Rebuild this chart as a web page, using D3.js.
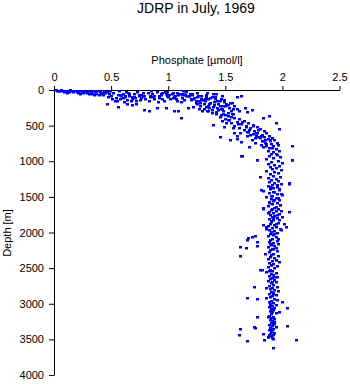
<!DOCTYPE html>
<html><head><meta charset="utf-8">
<script src="https://cdn.jsdelivr.net/npm/d3@7"></script>
<style>
body{margin:0;background:#fff;}
text{font-family:"Liberation Sans",Arial,sans-serif;fill:#000;}
</style></head>
<body><svg id="c" width="350" height="384"></svg>
<script>
const title = "JDRP in July, 1969";
const xLabel = "Phosphate [\u00b5mol/l]";
const yLabel = "Depth [m]";
const xTicks = [0, 0.5, 1, 1.5, 2, 2.5];
const yTicks = [0, 500, 1000, 1500, 2000, 2500, 3000, 3500, 4000];

// surface layer
const surfPhos = [0.02,0.04,0.06,0.08,0.10,0.12,0.14,0.16,0.18,0.20,0.22,0.24,0.26,0.28,0.30,0.32,0.34,0.36,0.38,0.40,0.42,0.44,0.05,0.09,0.13,0.17,0.21,0.25,0.29,0.33,0.37,0.41,0.45,0.11,0.03,0.23,0.31,0.35,0.39,0.43];
const surfDepth = [5,10,3,12,8,15,5,20,10,25,8,18,12,30,15,22,10,35,20,28,40,15,20,25,30,35,45,40,48,50,55,60,45,40,15,55,62,70,65,75];

// upper thermocline
const upperPhos = [0.46,0.48,0.50,0.52,0.54,0.56,0.58,0.60,0.62,0.64,0.66,0.68,0.70,0.72,0.74,0.76,0.78,0.80,0.47,0.51,0.55,0.59,0.63,0.67,0.71,0.75,0.79,0.49,0.57,0.65,0.73,0.46,0.56,0.64,0.68,0.72,0.53,0.61,
 0.82,0.84,0.86,0.88,0.90,0.92,0.94,0.96,0.98,1.00,1.02,1.04,1.06,1.08,1.10,1.12,1.14,1.16,1.18,1.20,0.83,0.87,0.91,0.95,0.99,1.03,1.07,1.11,1.15,1.19,0.79,0.83,0.98,0.90,1.09,1.11,1.05,1.17,1.22,0.85,0.97,1.13,
 1.21,1.23,1.25,1.27,1.29,1.31,1.33,1.35,1.37,1.39,1.41,1.43,1.45,1.47,1.49,1.51,1.53,1.24,1.28,1.32,1.36,1.40,1.44,1.48,1.52,1.26,1.30,1.34,1.38,1.42,1.46,1.50,1.54,1.22,1.35,1.42,1.47,1.38,1.50,1.33,
 0.92,0.95,1.01,1.05,1.09,1.13,1.17,1.21,1.25,1.29,1.33,1.37,1.41,1.45,1.49,0.94,0.99,1.04,1.08,1.12,1.16,1.20,1.24,1.28,1.32,1.36,1.40,1.44,1.48,1.52,1.27,1.31,1.35,1.39,1.43,1.46,1.30,1.34,1.38,1.25,
 0.58,0.62,0.66,0.70,0.74,0.78,0.60,0.68,0.76,0.84,0.88,1.56,1.58,1.60,1.55,1.57];
const upperDepth = [30,60,90,40,110,70,130,50,100,140,80,120,60,150,90,110,40,130,100,130,150,90,30,160,110,140,80,20,20,45,25,196,243,196,210,196,160,170,
 40,90,60,130,30,110,70,150,50,100,130,40,80,160,60,110,140,30,90,120,150,100,170,120,80,60,120,170,70,50,280,295,252,252,295,398,295,252,240,20,25,20,
 60,110,40,150,90,200,70,130,180,50,100,160,220,80,140,190,250,180,220,120,250,210,280,300,320,90,140,40,100,60,120,230,180,130,300,330,260,280,350,240,
 80,45,65,95,75,55,85,70,100,120,95,110,130,150,170,60,35,110,45,75,90,140,160,180,160,200,175,200,230,210,260,270,220,240,250,270,300,290,320,200,
 70,85,60,95,75,90,115,105,70,100,85,180,220,260,300,330];

// main thermocline bend
const bendPhos = [1.42,1.48,1.52,1.45,1.56,1.50,1.58,1.53,1.62,1.47,1.60,1.66,1.55,1.64,1.70,1.58,1.68,1.74,1.62,1.72,1.78,1.66,1.75,1.80,1.70,1.78,1.84,1.74,1.82,1.86,1.77,1.84,1.88,1.80,1.87,1.91,1.83,1.89,1.93,1.85,1.90,1.95,1.86,1.92,1.96,1.88,1.94,1.87,1.92,1.97,
 1.39,1.455,1.54,1.60,1.64,1.71,1.64,1.78,1.83,1.88,1.94,1.97,2.08,2.08,1.73,1.69,1.64,1.60,1.57,1.62,1.67,1.51,1.57,1.63,1.69,1.49,1.60,1.73,1.76,1.81,1.58,
 1.46,1.52,1.55,1.61,1.65,1.68,1.71,1.74,1.77,1.79,1.81,1.85,1.82,1.76,1.69,1.72,1.79,1.86,1.89,1.83,1.91,1.94];
const bendDepth = [310,330,360,380,340,400,390,420,410,440,450,430,470,480,460,500,510,490,530,540,520,560,570,550,590,600,580,620,630,610,650,660,640,680,690,670,710,720,700,740,760,750,780,790,770,810,830,850,870,860,
 491,655,701,690,730,795,931,982,398,365,467,552,786,982,280,304,84,94,260,300,250,460,540,600,650,520,640,700,740,770,610,
 350,420,380,480,450,520,560,500,610,560,650,700,720,680,590,630,660,760,700,800,820,900];

// deep water column
const deepPhos = [1.90,1.95,1.88,1.98,1.92,1.86,1.96,1.90,2.00,1.87,1.93,1.97,1.89,1.94,1.91,1.99,1.86,1.93,1.96,1.89,1.92,1.98,1.87,1.94,1.90,1.96,1.88,1.93,1.99,1.91,1.87,1.95,1.92,1.89,1.97,1.93,1.88,1.95,2.00,1.91,1.86,1.94,1.90,1.97,1.92,1.88,1.95,1.91,1.98,1.87,1.93,1.96,1.90,1.94,1.88,1.92,1.97,1.89,1.93,1.91,1.95,1.88,1.92,1.90,1.96,1.89,1.93,1.87,1.94,1.91,1.98,1.88,1.93,1.90,1.95,1.89,1.92,1.87,1.94,1.91,1.89,1.95,1.88,1.92,1.96,1.90,1.93,1.87,1.94,1.91,1.89,1.95,1.88,1.92,1.90,1.96,1.89,1.93,1.87,1.94,1.91,1.97,1.88,1.92,1.90,1.95,1.87,1.93,1.89,1.91,1.86,1.94,1.90,1.92,1.88,1.95,1.91,1.89,1.93,1.87,1.94,1.90,1.92,1.88,1.95,1.91,1.89,1.93,1.96,1.90,1.92,1.88,1.94,1.91,1.89,1.86,1.93,1.90,1.88,1.92,1.89,1.94,1.91,1.88,1.93,1.90,1.92,1.89,1.91,1.94,1.90,1.88,1.92,1.90,1.93,1.89,1.91,1.93,1.90,1.92,1.88,1.91,1.94,1.89,1.92,1.88,1.90,1.93,1.89,1.92,1.90,1.87,1.91,
 1.645,1.78,1.805,1.83,1.83,2.06,2.08,2.06,1.814,2.06,1.826,2.0,1.689,1.70,1.73,1.76,1.78,1.63,1.68,1.63,1.78,1.80,1.82,1.75,1.69,1.78,2.0,2.04,1.97,1.78,2.04,1.75,1.76,1.63,1.62,1.83,1.69,1.84,1.87,2.12,1.92,1.83,1.86,2.01,2.03,1.99,
 1.95,1.89,1.97,1.92,1.99,1.90,1.96,1.93,1.88,1.98,1.94,1.91,1.99,1.87,1.95,1.92,1.97,1.90,1.94,1.86,1.93,1.96,1.89,1.92,1.85,1.94,1.90,1.88,1.93,1.91,1.86,1.92,1.95,1.89,1.90,1.87,1.93,1.91,1.88,1.92];
const deepDepth = [900,915,930,945,960,975,990,1005,1020,1035,1050,1065,1080,1095,1110,1125,1140,1155,1170,1185,1200,1215,1230,1245,1260,1275,1290,1305,1320,1335,1350,1365,1380,1395,1410,1425,1440,1455,1470,1485,1500,1515,1530,1545,1560,1575,1590,1605,1620,1635,1650,1665,1680,1695,1710,1725,1740,1755,1770,1785,1800,1815,1830,1845,1860,1875,1890,1905,1920,1935,1950,1965,1980,1995,2010,2025,2040,2055,2070,2085,2100,2115,2130,2145,2160,2175,2190,2205,2220,2235,2250,2265,2280,2295,2310,2325,2340,2355,2370,2385,2400,2415,2430,2445,2460,2475,2490,2505,2520,2535,2550,2565,2580,2595,2610,2625,2640,2655,2670,2685,2700,2715,2730,2745,2760,2775,2790,2805,2820,2835,2850,2865,2880,2895,2910,2925,2940,2955,2970,2985,3000,3015,3030,3045,3060,3075,3090,3105,3120,3135,3150,3165,3180,3195,3210,3225,3240,3255,3270,3285,3300,3315,3330,3345,3360,3375,3390,3405,3420,3435,3450,3465,3480,
 926,982,1221,1413,1674,1319,982,1712,1401,1312,1660,1777,2108,2080,2065,2050,2130,2210,2215,2336,2190,2530,2525,2763,2913,2932,2974,3059,3120,3181,3308,3325,3340,3355,3443,3420,3523,3505,3467,3514,3622,1900,1950,1880,1920,1960,
 1330,1360,1390,1430,1460,1490,1520,1550,1580,1610,1640,1670,1700,1730,1760,1790,1820,1850,1880,1920,2020,2090,2160,2230,2300,2380,2460,2540,2620,2700,2780,2860,2950,3030,3110,3190,3280,3370,3440,3500];

const phosphate = [].concat(surfPhos, upperPhos, bendPhos, deepPhos);
const depth = [].concat(surfDepth, upperDepth, bendDepth, deepDepth);

const svg = d3.select("#c");
const x = d3.scaleLinear().domain([0, 2.5]).range([54, 339.5]);
const y = d3.scaleLinear().domain([0, 4000]).range([90, 375]);
const fmt = d => String(d);

svg.append("g").attr("transform", "translate(0,90)")
  .call(d3.axisTop(x).tickValues(xTicks).tickFormat(fmt).tickSize(4).tickSizeOuter(0))
  .call(g => g.selectAll("text").attr("font-size", 11).attr("dy", "-0.2em"))
  .call(g => g.selectAll("path,line").attr("stroke", "#000"));

svg.append("g").attr("transform", "translate(54,0)")
  .call(d3.axisLeft(y).tickValues(yTicks).tickFormat(fmt).tickSize(5).tickSizeOuter(0))
  .call(g => g.selectAll("text").attr("font-size", 11).attr("x", -10))
  .call(g => g.selectAll("path,line").attr("stroke", "#000"));

svg.selectAll("text").attr("font-family", "Liberation Sans, Arial, sans-serif").attr("fill", "#000");

const pts = phosphate.map((p, i) => [p, depth[i]]);
svg.append("g").selectAll("rect").data(pts).join("rect")
  .attr("x", d => Math.round(x(d[0])) - 1)
  .attr("y", d => Math.round(y(d[1])) - 1)
  .attr("width", 3).attr("height", 2.5)
  .attr("fill", "#0000ff");

svg.append("text").attr("x", 196).attr("y", 13).attr("text-anchor", "middle")
  .attr("font-size", 14).text(title);
svg.append("text").attr("x", 197).attr("y", 64).attr("text-anchor", "middle")
  .attr("font-size", 11).text(xLabel);
svg.append("text").attr("transform", "translate(11,233) rotate(-90)").attr("text-anchor", "middle")
  .attr("font-size", 11).text(yLabel);
</script></body></html>
